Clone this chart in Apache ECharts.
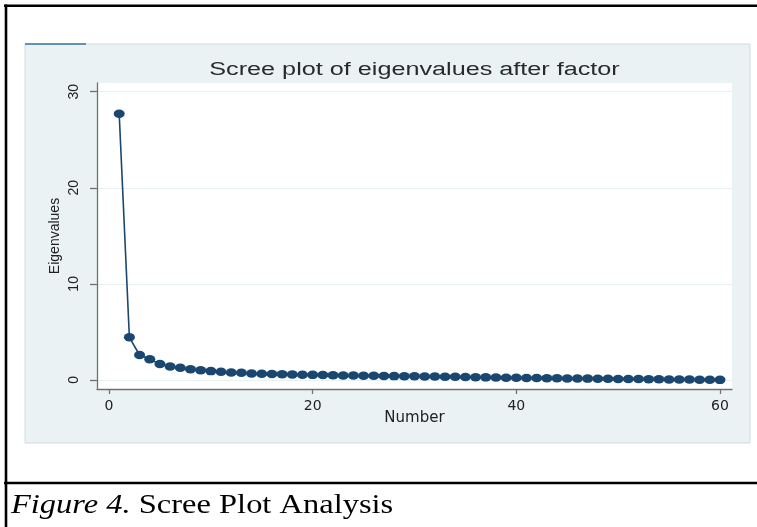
<!DOCTYPE html>
<html>
<head>
<meta charset="utf-8">
<script src="https://cdn.jsdelivr.net/npm/echarts@6/dist/echarts.min.js"></script>
<style>
html,body{margin:0;padding:0;background:#ffffff;}
#c{width:757px;height:527px;}
</style>
</head>
<body>
<div id="c"></div>
<script>
// ---- data ----
const numbers = [1,2,3,4,5,6,7,8,9,10,11,12,13,14,15,16,17,18,19,20,21,22,23,24,25,26,27,28,29,30,31,32,33,34,35,36,37,38,39,40,41,42,43,44,45,46,47,48,49,50,51,52,53,54,55,56,57,58,59,60];
const eigenvalues = [27.7,4.44,2.6,2.15,1.65,1.4,1.28,1.12,1.02,0.92,0.85,0.78,0.74,0.68,0.65,0.62,0.59,0.57,0.55,0.53,0.51,0.49,0.47,0.46,0.44,0.43,0.41,0.40,0.39,0.38,0.36,0.35,0.34,0.33,0.32,0.29,0.27,0.26,0.24,0.23,0.21,0.20,0.18,0.17,0.16,0.15,0.14,0.13,0.12,0.11,0.10,0.09,0.08,0.07,0.06,0.05,0.04,0.03,0.02,0.01];
const xTicks = [0,20,40,60];
const yTicks = [0,10,20,30];
const titleText = 'Scree plot of eigenvalues after factor';
const xName = 'Number';
const yName = 'Eigenvalues';
const captionItalic = 'Figure 4.';
const captionRest = ' Scree Plot Analysis';

const NAVY = '#1a476f';
const AXIS = '#707070';
const TXT = '#222222';

const chart = echarts.init(document.getElementById('c'), null, {renderer: 'canvas'});
chart.setOption({
  animation: false,
  backgroundColor: '#ffffff',
  grid: {left: 97, right: 25, top: 83, bottom: 138, show: true, backgroundColor: '#ffffff', borderWidth: 0, containLabel: false},
  xAxis: {
    type: 'value', min: -1.18, max: 61.18,
    name: xName, nameLocation: 'middle', nameGap: 22, nameMoveOverlap: false,
    nameTextStyle: {fontFamily: 'DejaVu Sans', fontSize: 15, color: TXT},
    axisLine: {show: true, onZero: false, lineStyle: {color: AXIS, width: 1.3}},
    axisTick: {show: true, customValues: xTicks, length: 5, lineStyle: {color: AXIS, width: 1.3}},
    axisLabel: {customValues: xTicks, margin: 10, fontFamily: 'DejaVu Sans', fontSize: 14, color: TXT},
    splitLine: {show: false}
  },
  yAxis: {
    type: 'value', min: -0.94, max: 30.9,
    name: yName, nameLocation: 'middle', nameGap: 35, nameRotate: 90, nameMoveOverlap: false,
    nameTextStyle: {fontFamily: 'Liberation Sans', fontSize: 14, color: TXT},
    axisLine: {show: true, onZero: false, lineStyle: {color: AXIS, width: 1.3}},
    axisTick: {show: true, customValues: yTicks, length: 7, lineStyle: {color: AXIS, width: 1.3}},
    axisLabel: {customValues: yTicks, rotate: 90, margin: 16, fontFamily: 'Liberation Sans', fontSize: 14, color: TXT},
    splitLine: {show: true, lineStyle: {color: '#e8f0f2', width: 1.2}}
  },
  series: [{
    type: 'line',
    data: numbers.map((n, i) => [n, eigenvalues[i]]),
    symbol: 'circle',
    symbolSize: [11, 8.5],
    itemStyle: {color: NAVY},
    lineStyle: {color: NAVY, width: 1.6},
    z: 3
  }],
  graphic: [
    {type: 'rect', z: -100, shape: {x: 25, y: 44, width: 725, height: 399}, style: {fill: '#eaf2f3', stroke: '#d2dbde', lineWidth: 1}},
    {type: 'line', z: -99, shape: {x1: 25, y1: 44, x2: 86, y2: 44}, style: {stroke: '#3a73a8', lineWidth: 1.5}},
    {type: 'text', x: 414.5, y: 70.5, scaleX: 1.4, z: 10,
     style: {text: titleText, x: 0, y: 0, align: 'center', verticalAlign: 'middle', font: '18px "Liberation Sans", Arial, sans-serif', fill: '#2a2a2a'}},
    {type: 'line', z: 10, shape: {x1: 4, y1: 5.7, x2: 757, y2: 5.7}, style: {stroke: '#000', lineWidth: 2.6}},
    {type: 'line', z: 10, shape: {x1: 6, y1: 4.5, x2: 6, y2: 527}, style: {stroke: '#000', lineWidth: 2.6}},
    {type: 'line', z: 10, shape: {x1: 4, y1: 483, x2: 757, y2: 483}, style: {stroke: '#000', lineWidth: 2.6}},
    {type: 'text', x: 11, y: 521, scaleX: 1.16, z: 10,
     style: {
       text: '{i|' + captionItalic + '}{r|' + captionRest + '}',
       x: 0, y: 0, align: 'left', verticalAlign: 'bottom',
       rich: {
         i: {fontFamily: 'Liberation Serif', fontStyle: 'italic', fontSize: 28, fill: '#000', lineHeight: 30},
         r: {fontFamily: 'Liberation Serif', fontSize: 28, fill: '#000', lineHeight: 30}
       }
     }}
  ]
});
</script>
</body>
</html>
